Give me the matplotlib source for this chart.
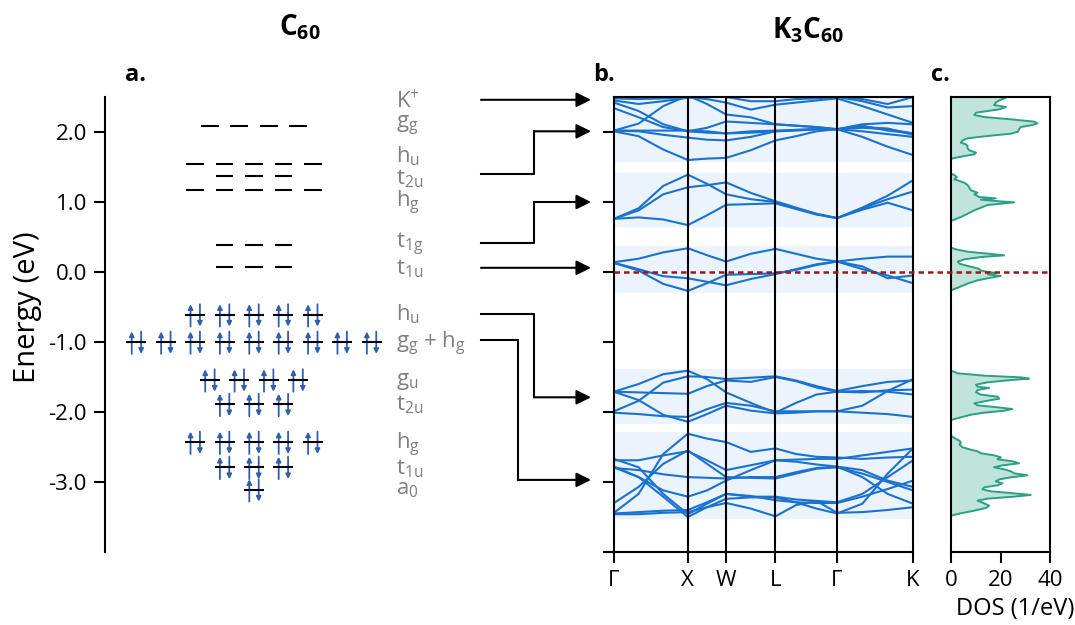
import numpy as np
import matplotlib.pyplot as plt
import matplotlib.transforms as mtransforms
from matplotlib.lines import Line2D

plt.rcParams['font.family'] = 'Open Sans'
plt.rcParams['mathtext.fontset'] = 'custom'
plt.rcParams['mathtext.rm'] = 'Open Sans'
plt.rcParams['mathtext.it'] = 'Open Sans:italic'
plt.rcParams['mathtext.bf'] = 'Open Sans:bold'
plt.rcParams['axes.unicode_minus'] = False

# --- C60 molecular levels (eV) ---
level_energy = [2.09, 1.55, 1.37, 1.17, 0.38, 0.07, -0.61, -1.00, -1.54, -1.89, -2.43, -2.79, -3.11]
level_count = [4, 5, 3, 5, 3, 3, 5, 9, 4, 3, 5, 3, 1]
level_filled = [False, False, False, False, False, False, True, True, True, True, True, True, True]

level_labels = [r'$\mathrm{K^{+}}$', r'$\mathrm{g_{g}}$', r'$\mathrm{h_{u}}$', r'$\mathrm{t_{2u}}$',
                r'$\mathrm{h_{g}}$', r'$\mathrm{t_{1g}}$', r'$\mathrm{t_{1u}}$', r'$\mathrm{h_{u}}$',
                r'$\mathrm{g_{g}}$ + $\mathrm{h_{g}}$', r'$\mathrm{g_{u}}$', r'$\mathrm{t_{2u}}$',
                r'$\mathrm{h_{g}}$', r'$\mathrm{t_{1u}}$', r'$\mathrm{a_{0}}$']
label_energy = [2.44, 2.09, 1.66, 1.33, 0.99, 0.39, 0.05, -0.61, -1.03, -1.57, -1.89, -2.47, -2.81, -3.11]

# molecular level -> crystal band connectors (eV)
link_from = [2.46, 1.40, 0.42, 0.06, -0.60, -0.97]
link_to = [2.46, 2.01, 1.00, 0.06, -1.79, -2.97]

# --- K3C60 band structure ---
k_nodes = [0.0, 0.247, 0.375, 0.540, 0.746, 1.0]
k_labels = ['Γ', 'X', 'W', 'L', 'Γ', 'K']

# energies at Γ, Γ-X (1/3, 2/3), X, X-W, W, W-L, L, L-Γ (1/3, 2/3), Γ, Γ-K (1/3, 2/3), K
bands_top = [
    [2.01, 1.94, 1.75, 1.60, 1.62, 1.63, 1.74, 1.88, 1.94, 2.01, 2.04, 1.93, 1.79, 1.67],
    [2.02, 2.02, 2.02, 2.02, 2.01, 1.98, 1.99, 2.01, 2.03, 2.04, 2.04, 2.01, 1.97, 1.93],
    [2.02, 2.01, 1.96, 1.92, 1.89, 1.88, 1.93, 2.01, 2.02, 2.04, 2.04, 2.06, 2.04, 1.98],
    [2.02, 2.12, 2.37, 2.52, 2.40, 2.25, 2.21, 2.11, 2.09, 2.07, 2.04, 2.07, 2.05, 1.96],
    [2.34, 2.21, 2.07, 2.01, 2.06, 2.15, 2.13, 2.11, 2.09, 2.07, 2.04, 2.11, 2.13, 2.11],
    [2.42, 2.30, 2.11, 2.01, 1.99, 1.98, 2.01, 2.02, 2.03, 2.04, 2.04, 2.09, 2.02, 1.98],
    [2.48, 2.47, 2.48, 2.50, 2.47, 2.42, 2.32, 2.39, 2.42, 2.45, 2.48, 2.37, 2.25, 2.13],
    [2.45, 2.40, 2.44, 2.49, 2.51, 2.50, 2.44, 2.44, 2.47, 2.48, 2.50, 2.44, 2.35, 2.37],
    [2.53, 2.51, 2.53, 2.54, 2.54, 2.53, 2.51, 2.51, 2.51, 2.51, 2.51, 2.47, 2.40, 2.50],
]
bands_t1g = [
    [0.76, 0.91, 1.23, 1.39, 1.26, 1.11, 1.04, 1.00, 0.91, 0.83, 0.77, 0.92, 1.09, 1.31],
    [0.76, 0.88, 1.11, 1.21, 1.24, 1.28, 1.13, 1.01, 0.92, 0.83, 0.77, 0.91, 1.04, 1.15],
    [0.76, 0.78, 0.75, 0.67, 0.81, 0.96, 0.97, 0.98, 0.90, 0.82, 0.77, 0.89, 0.99, 0.88],
]
bands_t1u = [
    [0.14, 0.19, 0.28, 0.34, 0.24, 0.15, 0.26, 0.33, 0.26, 0.19, 0.15, 0.19, 0.22, 0.22],
    [0.13, 0.04, -0.06, -0.09, -0.14, -0.19, -0.10, -0.03, 0.04, 0.11, 0.15, 0.08, -0.09, -0.05],
    [0.13, 0.02, -0.17, -0.27, -0.16, -0.04, -0.03, -0.02, 0.03, 0.10, 0.15, 0.04, -0.05, -0.16],
]
bands_hu = [
    [-1.71, -1.60, -1.46, -1.41, -1.53, -1.72, -1.87, -2.01, -1.87, -1.75, -1.71, -1.72, -1.69, -1.68],
    [-1.71, -1.72, -1.73, -1.74, -1.63, -1.55, -1.57, -1.50, -1.56, -1.65, -1.71, -1.70, -1.71, -1.75],
    [-1.71, -1.83, -2.04, -2.14, -2.03, -1.91, -1.98, -2.02, -2.01, -1.99, -1.99, -1.91, -1.70, -1.53],
    [-1.99, -1.84, -1.58, -1.49, -1.50, -1.53, -1.51, -1.49, -1.55, -1.63, -1.70, -1.63, -1.57, -1.55],
    [-2.01, -2.03, -2.06, -2.07, -1.96, -1.87, -1.91, -1.99, -1.99, -1.99, -1.99, -2.01, -2.03, -2.07],
]
bands_low = [
    [-3.44, -3.17, -2.60, -2.31, -2.38, -2.43, -2.57, -2.52, -2.60, -2.64, -2.65, -2.67, -2.65, -2.64],
    [-3.30, -3.07, -2.74, -2.55, -2.74, -2.93, -2.94, -2.95, -2.88, -2.81, -2.79, -2.88, -3.00, -3.12],
    [-3.45, -3.43, -3.41, -3.40, -3.29, -3.17, -3.20, -3.26, -3.29, -3.30, -3.30, -3.21, -3.10, -2.98],
    [-2.67, -2.79, -3.17, -3.46, -3.31, -3.17, -3.21, -3.21, -3.25, -3.27, -3.29, -3.17, -2.93, -2.69],
    [-2.78, -2.93, -3.21, -3.50, -3.36, -3.30, -3.38, -3.49, -3.33, -3.27, -3.44, -3.43, -3.40, -3.36],
    [-2.69, -2.69, -2.62, -2.56, -2.69, -2.83, -2.76, -2.69, -2.68, -2.67, -2.67, -2.62, -2.57, -2.52],
    [-2.80, -2.83, -2.89, -2.93, -2.94, -2.95, -2.93, -2.93, -2.86, -2.80, -2.78, -2.93, -3.17, -3.31],
    [-2.79, -2.93, -3.12, -3.21, -3.12, -2.98, -2.83, -2.69, -2.71, -2.75, -2.78, -2.83, -2.98, -3.07],
    [-3.46, -3.46, -3.44, -3.43, -3.36, -3.24, -3.22, -3.22, -3.29, -3.38, -3.45, -3.31, -2.88, -2.52],
]

# --- density of states, one block per band group ---
dos_energy = [
    [2.55, 2.515, 2.49, 2.453, 2.419, 2.386, 2.357, 2.324, 2.30, 2.276, 2.243, 2.214, 2.181, 2.148, 2.124,
     2.10, 2.071, 2.038, 2.005, 1.976, 1.943, 1.91, 1.881, 1.848, 1.824, 1.80, 1.767, 1.738, 1.705, 1.681,
     1.657, 1.624, 1.61],
    [1.405, 1.386, 1.357, 1.324, 1.30, 1.276, 1.243, 1.205, 1.167, 1.133, 1.11, 1.071, 1.052, 1.033, 1.014,
     0.995, 0.976, 0.957, 0.919, 0.881, 0.833, 0.786, 0.729],
    [0.348, 0.324, 0.29, 0.262, 0.238, 0.214, 0.181, 0.148, 0.119, 0.086, 0.052, 0.014, -0.014, -0.033,
     -0.057, -0.081, -0.119, -0.166, -0.224, -0.262],
    [-1.409, -1.447, -1.481, -1.505, -1.524, -1.543, -1.576, -1.609, -1.638, -1.657, -1.686, -1.719, -1.752,
     -1.781, -1.81, -1.838, -1.876, -1.905, -1.933, -1.957, -1.981, -2.01, -2.038, -2.076, -2.114],
    [-2.338, -2.371, -2.41, -2.438, -2.466, -2.504, -2.533, -2.562, -2.59, -2.619, -2.647, -2.676, -2.704,
     -2.733, -2.762, -2.79, -2.819, -2.847, -2.876, -2.904, -2.933, -2.962, -2.99, -3.019, -3.047, -3.076,
     -3.105, -3.133, -3.162, -3.185, -3.209, -3.238, -3.266, -3.305, -3.338, -3.371, -3.409, -3.447, -3.481],
]
dos_value = [
    [17.4, 17.4, 22.2, 19.5, 18.1, 17.4, 22.2, 19.5, 14.8, 10.1, 9.4, 13.4, 24.2, 33.6, 34.9, 32.9, 28.2,
     27.5, 27.1, 24.2, 14.8, 6.7, 4.7, 4.0, 6.0, 6.7, 6.7, 7.4, 10.1, 9.4, 5.4, 0.7, 0],
    [0, 1.3, 2.4, 1.3, 3.4, 5.4, 6.7, 7.4, 8.1, 10.7, 9.4, 11.4, 18.1, 12.1, 18.1, 25.5, 20.1, 14.8, 12.1,
     9.4, 6.7, 4.0, 0],
    [0, 2.0, 6.7, 14.8, 21.5, 12.1, 5.4, 2.7, 3.4, 6.7, 10.7, 12.7, 18.1, 14.8, 20.1, 16.1, 10.7, 6.7, 2.7, 0],
    [0, 2.7, 13.4, 28.2, 31.5, 24.2, 14.8, 10.1, 10.7, 15.4, 10.7, 10.1, 12.1, 18.8, 19.5, 14.8, 9.4, 10.7,
     18.8, 24.8, 21.5, 13.4, 8.1, 4.0, 0],
    [0, 1.3, 3.4, 4.0, 3.4, 4.7, 7.4, 10.7, 12.1, 17.4, 20.1, 18.8, 24.8, 27.5, 20.8, 17.4, 21.5, 24.2, 25.5,
     30.9, 24.2, 19.5, 18.1, 20.8, 18.8, 13.4, 12.7, 16.1, 25.5, 32.2, 25.5, 14.8, 10.7, 13.4, 15.4, 14.1,
     9.4, 4.0, 0],
]

BAND_BLUE = '#1a72cf'
SHADE = '#ebf3fc'
SPIN_BLUE = '#2f5fae'
LABEL_GREY = '#7f7f7f'
FERMI_RED = '#a31515'
DOS_EDGE = '#2ca084'
DOS_FILL = '#c0e4da'
YLIM = (-4.0, 2.5)

W, H = 1075, 625
fig = plt.figure(figsize=(W / 100, H / 100), dpi=100)


def px_axes(x0, x1, y0=97, y1=552):
    return fig.add_axes([x0 / W, (H - y1) / H, (x1 - x0) / W, (y1 - y0) / H])


ax_lev = px_axes(105, 480)
ax_band = px_axes(614, 913)
ax_dos = px_axes(951, 1050)

# ---------------- a. molecular levels ----------------
ax_lev.set_xlim(-5.07, 7.69)
ax_lev.set_ylim(*YLIM)
for side in ['top', 'right', 'bottom']:
    ax_lev.spines[side].set_visible(False)
ax_lev.spines['left'].set_linewidth(1.5)
ax_lev.set_xticks([])
ax_lev.set_yticks([-3, -2, -1, 0, 1, 2])
ax_lev.set_yticklabels([f'{v:.1f}' for v in [-3, -2, -1, 0, 1, 2]])
ax_lev.tick_params(axis='y', labelsize=16, length=8, width=1.5, pad=5)
fig.text(27 / W, 1 - 307 / H, 'Energy (eV)', fontsize=21, rotation=90, ha='center', va='center')

spin_props = dict(arrowstyle='-|>', color=SPIN_BLUE, lw=1.3, mutation_scale=7, shrinkA=0, shrinkB=0)
for e, n, filled in zip(level_energy, level_count, level_filled):
    slots = np.arange(n) - (n - 1) / 2
    half = 0.34 if filled else 0.30
    ax_lev.hlines(np.full(n, e), slots - half, slots + half, color='black', lw=1.5, zorder=3)
    if filled:
        for s in slots:
            ax_lev.annotate('', xy=(s - 0.16, e + 0.15), xytext=(s - 0.16, e - 0.17),
                            arrowprops=spin_props, zorder=2)
            ax_lev.annotate('', xy=(s + 0.16, e - 0.17), xytext=(s + 0.16, e + 0.15),
                            arrowprops=spin_props, zorder=2)

for txt, e in zip(level_labels, label_energy):
    ax_lev.text(4.83, e, txt, color=LABEL_GREY, fontsize=16, ha='left', va='center')

# connectors from molecular levels to the crystal bands
link_tf = mtransforms.blended_transform_factory(fig.transFigure, ax_lev.transData)
bend_px = [None, 534, 534, None, 534, 518]
x_start, x_tip = 481 / W, 591 / W
for e0, e1, bx in zip(link_from, link_to, bend_px):
    if bx is None:
        x_from = x_start
    else:
        xs = [x_start, bx / W, bx / W]
        fig.add_artist(Line2D(xs, [e0, e0, e1], transform=link_tf, color='black', lw=1.5))
        x_from = bx / W
    ax_lev.annotate('', xy=(x_tip, e1), xytext=(x_from, e1),
                    xycoords=('figure fraction', 'data'), textcoords=('figure fraction', 'data'),
                    arrowprops=dict(arrowstyle='-|>', color='black', lw=1.5,
                                    mutation_scale=22, shrinkA=0, shrinkB=0),
                    annotation_clip=False)

# ---------------- b. band structure ----------------
g0, kx, kw, kl, g1, kk = k_nodes
k_grid = [g0, g0 + (kx - g0) / 3, g0 + 2 * (kx - g0) / 3, kx, (kx + kw) / 2, kw, (kw + kl) / 2, kl,
          kl + (g1 - kl) / 3, kl + 2 * (g1 - kl) / 3, g1, g1 + (kk - g1) / 3, g1 + 2 * (kk - g1) / 3, kk]

for group in [bands_top, bands_t1g, bands_t1u, bands_hu, bands_low]:
    lo = min(min(b) for b in group) - 0.025
    hi = max(max(b) for b in group) + 0.025
    ax_band.axhspan(lo, hi, color=SHADE, lw=0, zorder=0)
    for b in group:
        ax_band.plot(k_grid, b, color=BAND_BLUE, lw=1.5, zorder=2, solid_joinstyle='round')

for kv in k_nodes[1:-1]:
    ax_band.axvline(kv, color='black', lw=1.5, zorder=3)

ax_band.set_xlim(0, 1)
ax_band.set_ylim(*YLIM)
ax_band.set_xticks(k_nodes)
ax_band.set_xticklabels(k_labels)
ax_band.set_yticks(np.arange(-4, 3, 1))
ax_band.set_yticklabels([])
ax_band.tick_params(labelsize=16, length=8, width=1.5, pad=5)
for sp in ax_band.spines.values():
    sp.set_linewidth(1.5)
    sp.set_zorder(4)

# ---------------- c. density of states ----------------
for e, v in zip(dos_energy, dos_value):
    ax_dos.fill_betweenx(e, 0, v, color=DOS_FILL, lw=0, zorder=1)
    ax_dos.plot(v, e, color=DOS_EDGE, lw=1.4, zorder=2)
ax_dos.set_xlim(0, 40)
ax_dos.set_ylim(*YLIM)
ax_dos.set_xticks([0, 20, 40])
ax_dos.set_yticks([])
ax_dos.tick_params(labelsize=16, length=8, width=1.5, pad=5)
fig.text(1015 / W, 1 - 609 / H, 'DOS (1/eV)', fontsize=17, ha='center', va='center')
for sp in ax_dos.spines.values():
    sp.set_linewidth(1.5)
    sp.set_zorder(4)

# Fermi level across the crystal panels
fermi_tf = mtransforms.blended_transform_factory(fig.transFigure, ax_band.transData)
fig.add_artist(Line2D([614 / W, 1050 / W], [0, 0], transform=fermi_tf, color=FERMI_RED,
                      lw=1.8, linestyle=(0, (2.2, 1.6)), zorder=10))

# titles and panel letters
fig.text(300 / W, 1 - 27 / H, r'$\mathbf{C_{60}}$', fontsize=20, ha='center', va='center')
fig.text(808 / W, 1 - 30 / H, r'$\mathbf{K_{3}C_{60}}$', fontsize=20, ha='center', va='center')
fig.text(125 / W, 1 - 75 / H, 'a.', fontsize=17, fontweight='bold', ha='left', va='center')
fig.text(593 / W, 1 - 75 / H, 'b.', fontsize=17, fontweight='bold', ha='left', va='center')
fig.text(931 / W, 1 - 75 / H, 'c.', fontsize=17, fontweight='bold', ha='left', va='center')

fig.savefig('out.png', dpi=100)
